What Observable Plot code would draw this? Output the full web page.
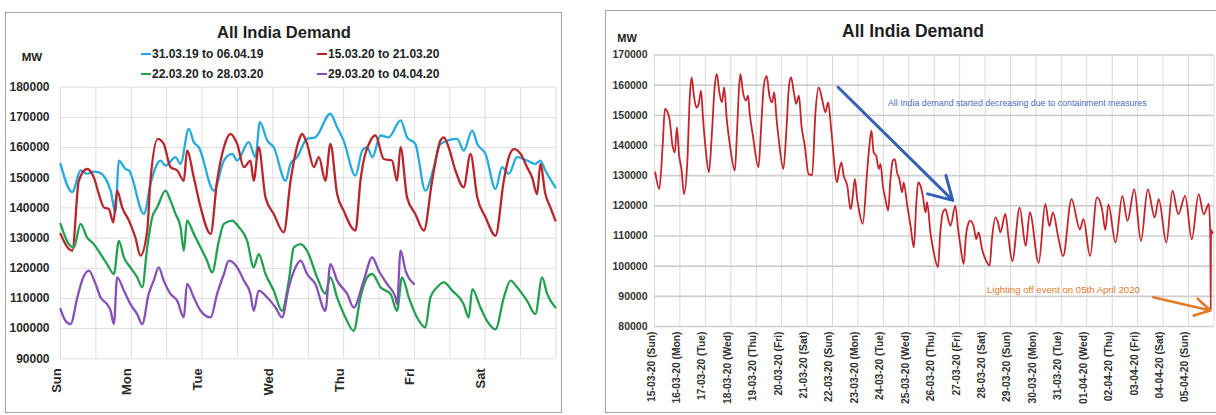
<!DOCTYPE html>
<html>
<head>
<meta charset="utf-8">
<script src="https://cdn.jsdelivr.net/npm/d3@7"></script>
<script src="https://cdn.jsdelivr.net/npm/@observablehq/plot@0.6"></script>
<style>
  html, body { margin: 0; padding: 0; background: #fff; }
  #wrap { position: relative; width: 1216px; height: 415px; overflow: hidden; background: #fff;
          font-family: "Liberation Sans", Arial, sans-serif; color: #222; }
  .box { position: absolute; border: 1.5px solid #a3a3a3; box-sizing: border-box; }
  .title { position: absolute; transform: translate(-50%, -50%); font-weight: bold; white-space: nowrap; color: #1e1e1e; }
  .unit { position: absolute; transform: translate(-50%, -50%); font-weight: bold; font-size: 11.5px; color: #222; }
  .leg { position: absolute; transform: translateY(-50%); font-weight: bold; font-size: 12px; white-space: nowrap; color: #222; display: flex; align-items: center; }
  .sw { display: inline-block; width: 10px; height: 2.5px; margin-right: 1px; }
  .plotholder { position: absolute; top: 0; }
</style>
</head>
<body>
<div id="wrap">
  <div class="box" style="left:5px;top:12px;width:557px;height:401px;"></div>
  <div class="box" style="left:605px;top:10px;width:640px;height:403px;"></div>
  <div id="leftPlot" class="plotholder" style="left:0px;"></div>
  <div id="rightPlot" class="plotholder" style="left:600px;"></div>
  <div id="overlay"></div>
</div>
<script>
// ---------------- LEFT CHART DATA (hours from Sunday 00:00, MW) ----------------
const leftTitle = "All India Demand";
const leftUnit = "MW";
const leftYTicks = [90000, 100000, 110000, 120000, 130000, 140000, 150000, 160000, 170000, 180000];
const leftDayNames = ["Sun", "Mon", "Tue", "Wed", "Thu", "Fri", "Sat"];
const leftDayHours = [0, 24, 48, 72, 96, 120, 144];
const leftGridHours = [0, 12, 24, 36, 48, 60, 72, 84, 96, 108, 120, 132, 144, 156, 168];

const seriesNames = ["31.03.19 to 06.04.19", "15.03.20 to 21.03.20", "22.03.20 to 28.03.20", "29.03.20 to 04.04.20"];
const seriesColors = ["#27aadd", "#b8262c", "#23a152", "#8551b9"];

const week2019 = [
  [0,154600],[4.0,145200],[6.8,152400],[9.0,151300],[11.3,152000],[13.0,151800],[17.0,145700],[18.6,138500],
  [19.8,155700],[22.0,152900],[23.2,152400],[28.3,138000],[30.5,147900],[33.9,155700],[35.6,154000],[39.0,156800],
  [40.7,154600],[43.5,166200],[45.2,161800],[46.9,160100],[52.0,145700],[55.4,155700],[58.2,157900],[59.9,155700],
  [63.8,161800],[66.1,156800],[67.6,168400],[70.1,162300],[72.3,160100],[76.3,149000],[78.0,154600],[80.2,156800],
  [83.6,162900],[86.4,163400],[91.5,171200],[93.8,166700],[96.0,162300],[100.0,150700],[102.3,159000],[104.0,160100],
  [105.7,156800],[108.5,164000],[111.3,163400],[115.3,169000],[117.5,163400],[120.3,161200],[123.7,145700],[126.6,153500],
  [128.8,161200],[134.5,162900],[136.7,159000],[139.6,165600],[141.3,161200],[144.1,157900],[147.5,146300],[149.7,153500],
  [152.0,151300],[154.8,156800],[158.2,155700],[161.0,154600],[162.7,155700],[164.4,152400],[167.8,146800]
];
const week1503 = [
  [0,131400],[2.8,126400],[4.0,125800],[6.2,149000],[9.0,152900],[11.3,150100],[13.0,144600],[14.7,140200],
  [16.4,139600],[17.9,135200],[19.2,145700],[20.9,140200],[23.2,135800],[25.4,130200],[27.1,124200],[29.4,132500],
  [30.5,149000],[33.0,162900],[35.0,161200],[37.3,153500],[39.6,152400],[41.8,149000],[42.9,159000],[45.2,150100],
  [47.5,140200],[50.9,131400],[53.1,149000],[55.4,160100],[57.6,164500],[59.9,161200],[62.2,153500],[64.4,155700],
  [65.5,149000],[67.2,160100],[69.5,143500],[72.3,138000],[75.7,131900],[78.0,149000],[80.8,162300],[81.9,164500],
  [83.6,161200],[85.9,153500],[87.6,156800],[89.8,149000],[91.5,161200],[93.8,144600],[96.0,139100],[100.0,132500],
  [101.7,149000],[105.1,162300],[106.8,164000],[109.6,156200],[112.4,155700],[114.1,149000],[115.3,160100],[117.5,143500],
  [120.3,138000],[123.2,132500],[126.0,149000],[128.8,162300],[130.0,163400],[131.6,160100],[133.9,152400],[136.7,146800],
  [139.0,157900],[141.3,143500],[144.1,136900],[147.5,130800],[150.3,149000],[152.0,156800],[153.7,159500],[156.0,157900],
  [158.2,153500],[159.9,150100],[161.6,144600],[162.7,154600],[164.4,144600],[166.1,140200],[167.8,135800]
];
const week2203 = [
  [0,134700],[2.8,128000],[4.5,126900],[6.8,134700],[9.0,130200],[11.3,128000],[13.6,124700],[15.8,121400],
  [18.1,118100],[19.8,129100],[21.5,123600],[23.7,120300],[26.0,117000],[27.7,113700],[29.4,126900],[31.1,136900],
  [32.8,140200],[35.6,145700],[37.3,142400],[39.0,138000],[40.7,133600],[41.8,125800],[42.9,135800],[45.2,131400],
  [47.5,126900],[49.7,122500],[51.4,118600],[53.7,129100],[55.4,134700],[58.2,135800],[60.5,133600],[63.3,129100],
  [65.5,120300],[67.2,124700],[69.5,118100],[72.3,112600],[75.1,105900],[77.4,115900],[79.1,126900],[81.4,128000],
  [83.6,125800],[87.0,117000],[89.8,111500],[91.5,117000],[93.8,110300],[96.6,103700],[99.4,99300],[101.7,110300],
  [104.0,117000],[105.7,118100],[108.5,113700],[111.9,111500],[114.1,105900],[115.8,117000],[118.1,110300],[120.9,103700],
  [123.7,100400],[125.4,110300],[127.7,113700],[130.0,115300],[132.8,112600],[136.7,108100],[138.4,103700],[139.6,113100],
  [142.4,107000],[144.6,102600],[147.5,99800],[150.3,110300],[152.6,115900],[154.8,113700],[158.2,109200],[161.0,104800],
  [163.3,117000],[165.0,111500],[167.8,107000]
];
const week2903 = [
  [0,106500],[1.7,102600],[3.4,101500],[5.7,110300],[7.3,115900],[9.6,119200],[11.9,114800],[13.6,110300],
  [15.8,108100],[17.0,105900],[18.1,101500],[19.2,117000],[21.5,112600],[23.7,108100],[26.0,104800],[27.7,101500],
  [29.9,111500],[31.6,115900],[33.3,120300],[35.0,115900],[37.3,111500],[39.6,109200],[41.8,103700],[42.9,114800],
  [45.2,110300],[47.5,105900],[50.9,103700],[53.1,111500],[55.4,118100],[57.1,122500],[59.9,120300],[62.2,115900],
  [64.4,111500],[65.5,105900],[67.2,112600],[70.1,110300],[72.9,107000],[75.1,103700],[77.4,113700],[79.7,120300],
  [81.4,122500],[83.6,118100],[86.4,114800],[89.8,105900],[91.5,121400],[93.8,115900],[97.2,111500],[99.4,107000],
  [102.8,115900],[105.7,123600],[107.9,119200],[110.7,114800],[113.6,110300],[114.1,108100],[115.3,125800],[117.0,119200],
  [119.8,114800]
];
const leftSeries = [week2019, week1503, week2203, week2903];

// ---------------- RIGHT CHART DATA (days from 15-03-20 00:00, MW) ----------------
const rightTitle = "All India Demand";
const rightUnit = "MW";
const rightYTicks = [80000, 90000, 100000, 110000, 120000, 130000, 140000, 150000, 160000, 170000];
const rightDayLabels = ["15-03-20 (Sun)","16-03-20 (Mon)","17-03-20 (Tue)","18-03-20 (Wed)","19-03-20 (Thu)","20-03-20 (Fri)",
  "21-03-20 (Sat)","22-03-20 (Sun)","23-03-20 (Mon)","24-03-20 (Tue)","25-03-20 (Wed)","26-03-20 (Thu)","27-03-20 (Fri)",
  "28-03-20 (Sat)","29-03-20 (Sun)","30-03-20 (Mon)","31-03-20 (Tue)","01-04-20 (Wed)","02-04-20 (Thu)","03-04-20 (Fri)",
  "04-04-20 (Sat)","05-04-20 (Sun)"];
const rightDayGrid = d3.range(0, 23);

const demand = [
  [0.03,131100],[0.19,125600],[0.32,139900],[0.41,152100],[0.58,149300],[0.71,139900],[0.80,137700],[0.88,146000],
  [0.97,136600],[1.06,132200],[1.16,123900],[1.29,134400],[1.39,156500],[1.46,162600],[1.55,156500],[1.65,152600],
  [1.74,153800],[1.83,158200],[1.91,148800],[2.00,139900],[2.14,131100],[2.26,144400],[2.36,158700],[2.45,163700],
  [2.55,157600],[2.65,154300],[2.74,159300],[2.84,148800],[2.97,139900],[3.16,131700],[3.25,145500],[3.33,159800],
  [3.38,163700],[3.48,157600],[3.59,154900],[3.68,156500],[3.74,151000],[3.87,143300],[4.09,132800],[4.19,145500],
  [4.30,159800],[4.41,163100],[4.52,156500],[4.62,154300],[4.71,157600],[4.80,148800],[4.90,141000],[5.07,132200],
  [5.19,145500],[5.29,159800],[5.37,162600],[5.48,157600],[5.57,153800],[5.68,156500],[5.78,146600],[5.91,139900],
  [6.06,130500],[6.20,130200],[6.33,151000],[6.46,159300],[6.59,155400],[6.72,151000],[6.83,154300],[6.96,144400],
  [7.18,127800],[7.25,131100],[7.35,134400],[7.44,130000],[7.58,126700],[7.71,118900],[7.77,121200],[7.88,128900],
  [7.97,122300],[8.06,117800],[8.19,114000],[8.36,131100],[8.45,139900],[8.53,144900],[8.62,137700],[8.72,136600],
  [8.82,132200],[8.89,133900],[8.98,126700],[9.08,122300],[9.19,118400],[9.28,128900],[9.37,135000],[9.45,135500],
  [9.54,131100],[9.63,128900],[9.74,124500],[9.80,127800],[9.94,120100],[10.07,113400],[10.20,106200],[10.29,120100],
  [10.37,127800],[10.46,126700],[10.55,123400],[10.66,117800],[10.72,121200],[10.85,111200],[10.98,104600],[11.15,99600],
  [11.24,111200],[11.34,117800],[11.44,118900],[11.55,115600],[11.64,113400],[11.83,120100],[11.94,112300],[12.03,106800],
  [12.16,100700],[12.25,110100],[12.36,114500],[12.42,115100],[12.56,112900],[12.65,109000],[12.75,111200],[12.88,105700],
  [13.01,102400],[13.18,100200],[13.27,109000],[13.41,116200],[13.51,114500],[13.60,111200],[13.80,117300],[13.93,109000],
  [14.07,101700],[14.36,119400],[14.60,106700],[14.76,117800],[15.11,101100],[15.37,120600],[15.53,113300],[15.67,117800],
  [15.87,110000],[16.07,103300],[16.40,122200],[16.73,112200],[16.87,115600],[17.13,103300],[17.40,122800],[17.60,118900],
  [17.73,112000],[17.85,120500],[18.13,107800],[18.40,123300],[18.60,115000],[18.87,125500],[19.13,108300],[19.40,125500],
  [19.67,116100],[19.83,122200],[20.13,107800],[20.37,125000],[20.60,117200],[20.87,123300],[21.13,108900],[21.40,123900],
  [21.60,117200],[21.80,120600],[21.86,109500],[21.875,85500],[21.885,112000],[21.95,111000]
];

// annotations (data space)
const containmentNote = { text: "All India demand started decreasing due to containment measures", x: 14.27, y: 153900 };
const containmentArrow = [{ x1: 7.22, y1: 159300, x2: 11.73, y2: 121800 }];
const lightsNote = { text: "Lighting off event on 05th April 2020", x: 16.08, y: 92000 };
const lightsArrow = [{ x1: 19.61, y1: 89700, x2: 21.86, y2: 85300 }];

// ---------------- LEFT CHART ----------------
const font = '"Liberation Sans", Arial, sans-serif';
const leftRows = leftSeries.flatMap((s, i) => s.map(([h, v]) => ({ h, v, name: seriesNames[i] })));

const leftChart = Plot.plot({
  width: 562, height: 415,
  marginLeft: 60, marginRight: 6.5, marginTop: 86.7, marginBottom: 56.7,
  x: { domain: [0, 168], axis: null },
  y: { domain: [90000, 180000], axis: null },
  color: { domain: seriesNames, range: seriesColors },
  style: { background: "transparent", fontFamily: font, overflow: "visible" },
  marks: [
    Plot.ruleX(leftGridHours, { stroke: "#dedede", strokeWidth: 1 }),
    Plot.ruleY(leftYTicks, { stroke: "#dedede", strokeWidth: 1 }),
    Plot.line(leftRows, { x: "h", y: "v", z: "name", stroke: "name", strokeWidth: 2.3, strokeLinejoin: "round", curve: "monotone-x" }),
    Plot.text(leftYTicks, { y: d => d, frameAnchor: "left", textAnchor: "end", dx: -11, text: d => String(d),
      fontSize: 12, fontWeight: "bold", fill: "#2a2a2a" }),
    Plot.text(leftDayHours, { x: d => d, frameAnchor: "bottom", rotate: -90, textAnchor: "end", dy: 9.5,
      text: (d, i) => leftDayNames[i], fontSize: 13, fontWeight: "bold", fill: "#2a2a2a" })
  ]
});
document.getElementById("leftPlot").appendChild(leftChart);

// ---------------- RIGHT CHART ----------------
const rightRows = demand.map(([d, v]) => ({ d, v }));
const rightChart = Plot.plot({
  width: 616, height: 415,
  marginLeft: 54, marginRight: 2.6, marginTop: 54.5, marginBottom: 89,
  x: { domain: [0, 22], axis: null },
  y: { domain: [80000, 170000], axis: null },
  style: { background: "transparent", fontFamily: font, overflow: "visible" },
  marks: [
    Plot.ruleX(rightDayGrid, { stroke: "#dadada", strokeWidth: 1 }),
    Plot.ruleY(rightYTicks, { stroke: "#cfcfcf", strokeWidth: 1.6 }),
    Plot.line(rightRows, { x: "d", y: "v", stroke: "#c2252b", strokeWidth: 1.8, strokeLinejoin: "round", curve: "monotone-x" }),
    Plot.arrow(containmentArrow, { x1: "x1", y1: "y1", x2: "x2", y2: "y2", stroke: "#3461b5", strokeWidth: 3, headLength: 13 }),
    Plot.arrow(lightsArrow, { x1: "x1", y1: "y1", x2: "x2", y2: "y2", stroke: "#e47a25", strokeWidth: 2.6, headLength: 10 }),
    Plot.text([containmentNote], { x: "x", y: "y", text: "text", fontSize: 8.8, fill: "#4a6cc6" }),
    Plot.text([lightsNote], { x: "x", y: "y", text: "text", fontSize: 9.6, fill: "#e5782a" }),
    Plot.text(rightYTicks, { y: d => d, frameAnchor: "left", textAnchor: "end", dx: -7, text: d => String(d),
      fontSize: 10.5, fontWeight: "bold", fill: "#333" }),
    Plot.text(rightDayLabels, { x: (d, i) => i, frameAnchor: "bottom", rotate: -90, textAnchor: "end", dy: 5,
      text: d => d, fontSize: 10.3, fontWeight: "bold", fill: "#333" })
  ]
});
document.getElementById("rightPlot").appendChild(rightChart);

// ---------------- TITLES / LEGEND (HTML) ----------------
const ov = document.getElementById("overlay");
function add(html) { ov.insertAdjacentHTML("beforeend", html); }
add(`<div class="title" style="left:284px;top:32px;font-size:16.5px;">${leftTitle}</div>`);
add(`<div class="unit" style="left:32px;top:57px;">${leftUnit}</div>`);
add(`<div class="title" style="left:913px;top:31px;font-size:17.5px;">${rightTitle}</div>`);
add(`<div class="unit" style="left:627px;top:38px;font-size:11px;">${rightUnit}</div>`);
const legPos = [[141, 54], [317, 54], [141, 74], [317, 74]];
seriesNames.forEach((n, i) => {
  add(`<div class="leg" style="left:${legPos[i][0]}px;top:${legPos[i][1]}px;"><span class="sw" style="background:${seriesColors[i]}"></span>${n}</div>`);
});
</script>
</body>
</html>
